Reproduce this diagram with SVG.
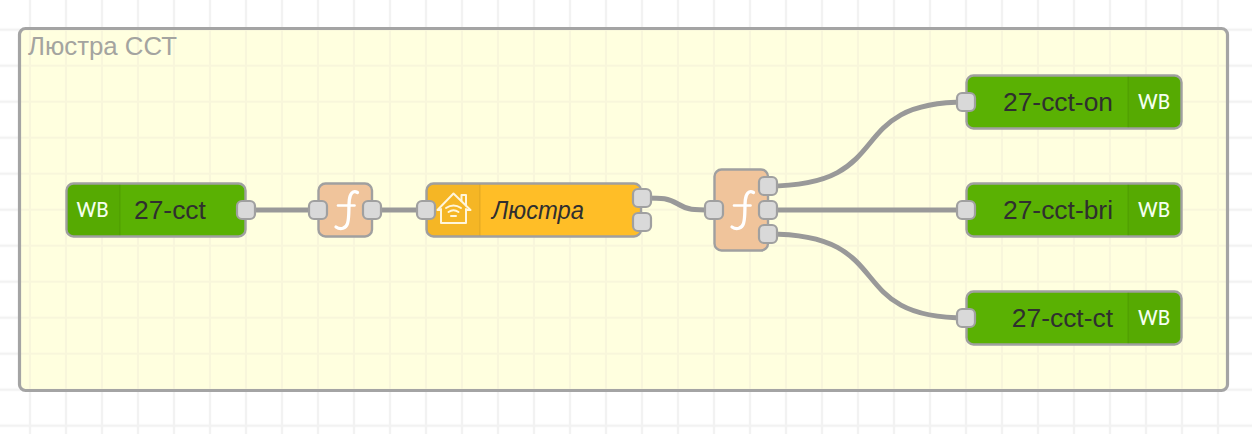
<svg xmlns="http://www.w3.org/2000/svg" width="1252" height="434" viewBox="0 0 1252 434">
<defs>
<pattern id="g" width="36" height="36" patternUnits="userSpaceOnUse" patternTransform="translate(12 11.7)">
<path d="M18 0V36M0 18H36" fill="none" stroke="#f2f2f2" stroke-width="2.400"/>
</pattern>
<pattern id="g2" width="36" height="36" patternUnits="userSpaceOnUse" patternTransform="translate(12 11.7)">
<path d="M18 0V36M0 18H36" fill="none" stroke="#f8f6db" stroke-width="2.200"/>
</pattern>
<g id="fn" fill="none" stroke="#fff" stroke-linecap="round"><path d="M12.500 -17.500C8 -20 5 -16.500 4.300 -10C3.500 -2 4.500 7 2.500 13.500C1 18.500 -4.500 20 -9 17" stroke-width="3.300"/><path d="M-7 -4.500H9.500" stroke-width="2.600"/></g>
</defs>
<style>
.n{stroke:#a0a0a0;stroke-width:2.400}
.green{fill:#5ab103}
.dark{fill:#000;fill-opacity:.04}
.div{stroke:#000;stroke-opacity:.07;stroke-width:1.500}
.port{fill:#d9d9d9;stroke:#a0a0a0;stroke-width:2.200}
.w{fill:none;stroke:#999;stroke-width:5}
text{font-family:"Liberation Sans",Arial,sans-serif}
.l{font-size:26.400px;fill:#2f2f2f}
.it{font-size:25px;font-style:italic}
.wb{font-family:"Lato","Open Sans",sans-serif;font-size:21.500px;fill:#f4fff0;font-weight:500}
</style>
<rect width="1252" height="434" fill="#fff"/>
<rect width="1252" height="434" fill="url(#g)"/>
<g id="group-cct">
<rect x="19.500" y="28.500" width="1208" height="362" rx="6" fill="#ffffdf"/>
<rect x="19.500" y="28.500" width="1208" height="362" rx="6" fill="url(#g2)"/>
<rect x="19.500" y="28.500" width="1208" height="362" rx="6" fill="none" stroke="#a4a4a4" stroke-width="3.200"/>
<text x="28" y="55" font-size="25.800" fill="#a4a4a0">Люстра ССТ</text>
</g>
<g id="connectors">
<path class="w" d="M246 210H318"/>
<path class="w" d="M372 210H426"/>
<path class="w" d="M642 198C664 198 668 198 678 204C688 210 692 210 714 210"/>
<path class="w" d="M768 186C900 186 840 102 966 102"/>
<path class="w" d="M768 210H966"/>
<path class="w" d="M768 234C900 234 840 318 966 318"/>
</g>
<g id="node-27-cct">
<rect class="n green" x="66.500" y="183.500" width="179" height="53" rx="7"/>
<path class="dark" d="M73 184.500H120V235.500H73a6 6 0 0 1-6-6V190.500a6 6 0 0 1 6-6z"/>
<path class="div" d="M120 184.500V235.500"/>
<text class="wb" x="76.500" y="216.500" textLength="32" lengthAdjust="spacingAndGlyphs">WB</text>
<text class="l" x="134" y="218.500">27-cct</text>
<rect class="port" x="237" y="201" width="18" height="18" rx="5"/>
</g>
<g id="node-f1">
<rect x="318.500" y="183.500" width="53.500" height="53" rx="7" fill="#f0c49b" class="n"/>
<use href="#fn" x="345" y="210"/>
<rect class="port" x="309" y="201" width="18" height="18" rx="5"/>
<rect class="port" x="363" y="201" width="18" height="18" rx="5"/>
</g>
<g id="node-lustra">
<rect class="n" x="426.500" y="183.500" width="214.500" height="53" rx="7" fill="#ffbe27"/>
<path class="dark" d="M433 184.500H480V235.500H433a6 6 0 0 1-6-6V190.500a6 6 0 0 1 6-6z"/>
<path class="div" d="M480 184.500V235.500"/>
<g fill="none" stroke="#fff6dc" stroke-width="2" stroke-linecap="round" stroke-linejoin="round">
<path d="M437.500 210L453.500 193.500L470.500 210H466.500M437.500 210H441"/>
<path d="M461.500 201V195H466V205.500"/>
<path d="M441 209V223H466V209"/>
<path d="M446 208Q453.500 203 461 208M448.500 212Q453.500 208.500 458.500 212M451 216H456"/>
</g>
<text class="l it" x="492" y="218.500" textLength="92" lengthAdjust="spacingAndGlyphs">Люстра</text>
<rect class="port" x="417" y="201" width="18" height="18" rx="5"/>
<rect class="port" x="633" y="189" width="18" height="18" rx="5"/>
<rect class="port" x="633" y="213" width="18" height="18" rx="5"/>
</g>
<g id="node-f2">
<rect x="714.500" y="169.500" width="53.500" height="81" rx="7" fill="#f0c49b" class="n"/>
<use href="#fn" x="741" y="210"/>
<rect class="port" x="705" y="201" width="18" height="18" rx="5"/>
<rect class="port" x="759" y="177" width="18" height="18" rx="5"/>
<rect class="port" x="759" y="201" width="18" height="18" rx="5"/>
<rect class="port" x="759" y="225" width="18" height="18" rx="5"/>
</g>
<g id="node-on">
<rect class="n green" x="966.500" y="75.500" width="215" height="53" rx="7"/>
<path class="dark" d="M1128 76.500H1174a6 6 0 0 1 6 6V121.500a6 6 0 0 1-6 6H1128z"/>
<path class="div" d="M1128 76.500V127.500"/>
<text class="wb" x="1138" y="108.500" textLength="32" lengthAdjust="spacingAndGlyphs">WB</text>
<text class="l" x="1113" y="110.500" text-anchor="end">27-cct-on</text>
<rect class="port" x="957" y="93" width="18" height="18" rx="5"/>
</g>
<g id="node-bri">
<rect class="n green" x="966.500" y="183.500" width="215" height="53" rx="7"/>
<path class="dark" d="M1128 184.500H1174a6 6 0 0 1 6 6V229.500a6 6 0 0 1-6 6H1128z"/>
<path class="div" d="M1128 184.500V235.500"/>
<text class="wb" x="1138" y="216.500" textLength="32" lengthAdjust="spacingAndGlyphs">WB</text>
<text class="l" x="1113" y="218.500" text-anchor="end">27-cct-bri</text>
<rect class="port" x="957" y="201" width="18" height="18" rx="5"/>
</g>
<g id="node-ct">
<rect class="n green" x="966.500" y="291.500" width="215" height="53" rx="7"/>
<path class="dark" d="M1128 292.500H1174a6 6 0 0 1 6 6V337.500a6 6 0 0 1-6 6H1128z"/>
<path class="div" d="M1128 292.500V343.500"/>
<text class="wb" x="1138" y="324.500" textLength="32" lengthAdjust="spacingAndGlyphs">WB</text>
<text class="l" x="1113" y="326.500" text-anchor="end">27-cct-ct</text>
<rect class="port" x="957" y="309" width="18" height="18" rx="5"/>
</g>
</svg>
